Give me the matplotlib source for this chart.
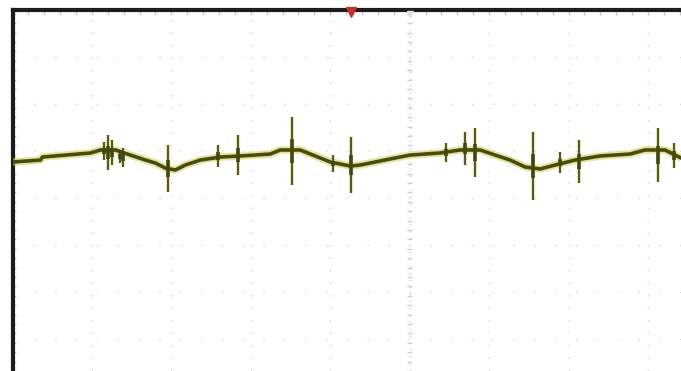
"""
Scope capture: slow sawtooth-like ripple with switching spikes.
"""
import matplotlib
matplotlib.use("Agg")
import matplotlib.pyplot as plt
import numpy as np

# screen units: x in horizontal divisions, y in half-screen units (1 = two grid rows)
trace_x = [0.000, 0.352, 0.377, 0.981, 1.107, 1.296, 1.484, 1.673, 1.799, 1.925,
           2.050, 2.176, 2.365, 2.616, 2.868, 3.245, 3.371, 3.623, 3.811, 4.000,
           4.252, 4.377, 4.566, 4.818, 5.006, 5.384, 5.635, 5.887, 6.075, 6.264,
           6.453, 6.642, 6.830, 7.082, 7.396, 7.774, 7.962, 8.214, 8.415]
trace_y = [2.383, 2.404, 2.436, 2.479, 2.511, 2.511, 2.457, 2.404, 2.372, 2.319,
           2.298, 2.351, 2.404, 2.436, 2.447, 2.468, 2.511, 2.511, 2.447, 2.383,
           2.340, 2.351, 2.383, 2.426, 2.457, 2.479, 2.511, 2.511, 2.457, 2.404,
           2.330, 2.309, 2.351, 2.404, 2.447, 2.468, 2.511, 2.511, 2.426]

spike_x = [1.157, 1.208, 1.258, 1.358, 1.396, 1.962, 2.591, 2.843, 3.522, 4.038,
           4.264, 5.459, 5.698, 5.824, 6.553, 6.893, 7.132, 8.126, 8.327]
spike_top = [2.596, 2.670, 2.617, 2.511, 2.532, 2.564, 2.564, 2.670, 2.862, 2.457,
             2.649, 2.585, 2.702, 2.745, 2.702, 2.489, 2.617, 2.745, 2.585]
spike_bottom = [2.404, 2.298, 2.351, 2.372, 2.330, 2.064, 2.330, 2.245, 2.138, 2.277,
                2.053, 2.383, 2.351, 2.223, 1.979, 2.266, 2.160, 2.170, 2.319]

X_DIVS = [1, 2, 3, 4, 5, 6, 7, 8]
Y_ROWS = [0.5, 1.0, 1.5, 2.0, 2.5, 3.0, 3.5]
CENTER_X = 5
X_MAX = 669 / 79.5
Y_MIN, Y_MAX = 0.16, 4.0

fig = plt.figure(figsize=(6.81, 3.71), dpi=100)
fig.patch.set_facecolor("white")
ax = fig.add_axes([12.5 / 681, 0, 1 - 12.5 / 681, 361 / 371])
ax.set_xlim(0, X_MAX)
ax.set_ylim(Y_MIN, Y_MAX)
ax.set_xticks([])
ax.set_yticks([])
for side in ("right", "bottom"):
    ax.spines[side].set_visible(False)
for side in ("left", "top"):
    ax.spines[side].set_linewidth(3)
    ax.spines[side].set_color("#1c1c1c")

# graticule
for gx in X_DIVS:
    if gx == CENTER_X:
        continue
    ax.axvline(gx, color="#d2d2d2", lw=1, ls=(0, (1, 8)), zorder=1)
for gy in Y_ROWS:
    ax.axhline(gy, color="#d6d6d6", lw=1, ls=(0, (1, 14)), zorder=1)
ax.axvline(CENTER_X, color="#cccccc", lw=1, ls=(0, (1, 4)), zorder=1)
minor = np.arange(Y_MIN, Y_MAX, 0.1)
ax.hlines(minor, CENTER_X - 0.03, CENTER_X + 0.03, color="#d0d0d0", lw=1, zorder=1)
ax.hlines(minor, 0, 0.05, color="#c8c8c8", lw=1, zorder=1)
ax.vlines(np.arange(0, X_MAX, 0.2), Y_MAX - 0.05, Y_MAX, color="#c8c8c8", lw=1, zorder=1)

# trace
ax.plot(trace_x, trace_y, color="#d0d055", lw=5.5, alpha=0.55, zorder=3,
        solid_capstyle="butt")
ax.plot(trace_x, trace_y, color="#4b4b10", lw=2.6, zorder=4)

sx = np.array(spike_x)
st = np.array(spike_top)
sb = np.array(spike_bottom)
mid = (st + sb) / 2
ax.vlines(sx, sb, st, color="#cfcf6a", lw=3, alpha=0.5, zorder=3)
ax.vlines(sx, sb, st, color="#3c3c10", lw=1.2, zorder=5)
ax.vlines(sx, mid - 0.35 * (st - sb) / 2, mid + 0.35 * (st - sb) / 2,
          color="#45450e", lw=2.6, zorder=5)

# trigger markers on top edge
ax.plot([4.26], [Y_MAX - 0.02], marker="v", ms=7, color="#c4302c", zorder=6,
        clip_on=False)
ax.plot([CENTER_X], [Y_MAX - 0.04], marker="v", ms=5, color="#eadcdc", zorder=6,
        clip_on=False)

fig.savefig("out.png", dpi=100, facecolor="white")
